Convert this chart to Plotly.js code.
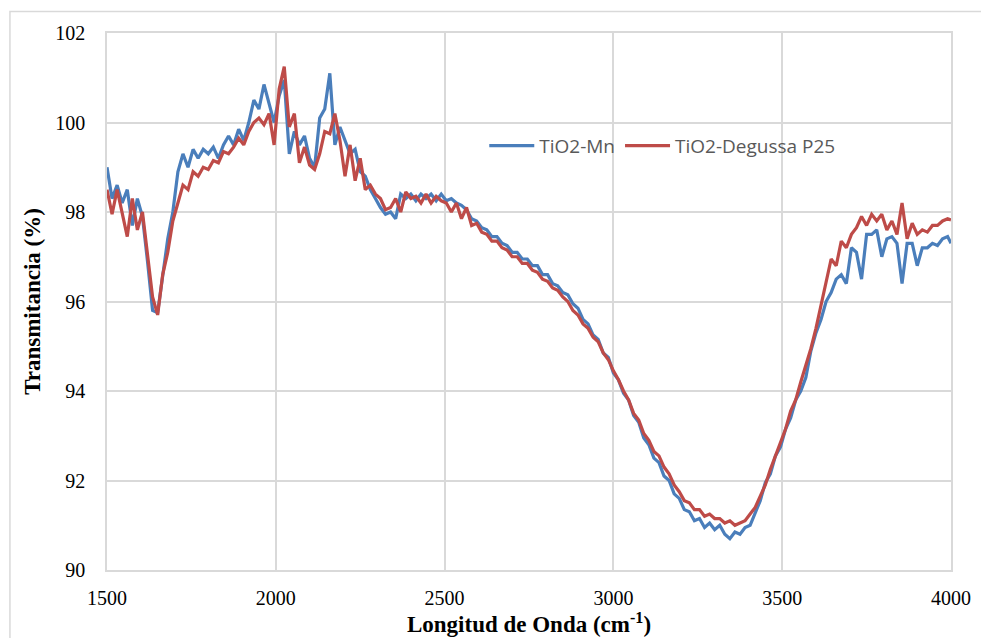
<!DOCTYPE html>
<html>
<head>
<meta charset="utf-8">
<script src="https://cdn.plot.ly/plotly-3.0.1.min.js"></script>
<style>html,body{margin:0;padding:0;background:#fff;}#chart{width:981px;height:638px;}</style>
</head>
<body>
<div id="chart"></div>
<script>
const wavenumber = [1500,1515,1530,1545,1560,1575,1590,1605,1620,1635,1650,1665,1680,1695,1710,1725,1740,1755,1770,1785,1800,1815,1830,1845,1860,1875,1890,1905,1920,1935,1950,1965,1980,1995,2010,2025,2040,2055,2070,2085,2100,2115,2130,2145,2160,2175,2190,2205,2220,2235,2250,2265,2280,2295,2310,2325,2340,2355,2370,2385,2400,2415,2430,2445,2460,2475,2490,2505,2520,2535,2550,2565,2580,2595,2610,2625,2640,2655,2670,2685,2700,2715,2730,2745,2760,2775,2790,2805,2820,2835,2850,2865,2880,2895,2910,2925,2940,2955,2970,2985,3000,3015,3030,3045,3060,3075,3090,3105,3120,3135,3150,3165,3180,3195,3210,3225,3240,3255,3270,3285,3300,3315,3330,3345,3360,3375,3390,3405,3420,3435,3450,3465,3480,3495,3510,3525,3540,3555,3570,3585,3600,3615,3630,3645,3660,3675,3690,3705,3720,3735,3750,3765,3780,3795,3810,3825,3840,3855,3870,3885,3900,3915,3930,3945,3960,3975,3990,4000];

const tio2Mn = [99.0,98.3,98.6,98.2,98.5,97.7,98.3,97.9,96.9,95.8,95.75,96.6,97.4,98.0,98.9,99.3,99.0,99.4,99.2,99.4,99.3,99.45,99.2,99.5,99.7,99.5,99.85,99.6,100.0,100.5,100.3,100.85,100.4,100.0,100.6,100.95,99.3,99.8,99.5,99.7,99.2,99.0,100.1,100.3,101.1,99.5,99.9,99.6,99.3,99.4,98.9,98.8,98.5,98.3,98.1,97.95,98.0,97.85,98.4,98.3,98.4,98.25,98.4,98.3,98.4,98.25,98.4,98.25,98.3,98.2,98.15,98.05,97.85,97.8,97.65,97.6,97.45,97.45,97.3,97.25,97.1,97.1,96.95,96.95,96.8,96.8,96.6,96.6,96.4,96.35,96.2,96.15,95.95,95.85,95.6,95.5,95.25,95.15,94.85,94.75,94.4,94.25,93.95,93.8,93.45,93.3,92.95,92.8,92.5,92.4,92.1,92.0,91.7,91.6,91.35,91.3,91.1,91.15,90.95,91.05,90.9,91.0,90.8,90.7,90.85,90.8,90.95,91.0,91.3,91.55,91.95,92.15,92.55,92.75,93.15,93.4,93.8,94.0,94.3,94.9,95.3,95.6,96.0,96.2,96.5,96.6,96.4,97.2,97.1,96.5,97.5,97.5,97.6,97.0,97.4,97.45,97.3,96.4,97.3,97.3,96.8,97.2,97.2,97.3,97.25,97.4,97.45,97.3];

const tio2P25 = [98.5,97.95,98.5,98.0,97.45,98.3,97.6,98.0,97.0,96.1,95.7,96.6,97.1,97.8,98.2,98.6,98.5,98.9,98.8,99.0,98.95,99.15,99.1,99.35,99.3,99.45,99.65,99.5,99.8,100.0,100.1,99.95,100.2,99.5,100.75,101.25,99.9,100.2,99.1,99.45,99.05,98.95,99.3,99.8,99.75,100.2,99.6,98.8,99.5,98.7,99.2,98.5,98.6,98.4,98.3,98.05,98.1,98.3,98.0,98.45,98.3,98.35,98.2,98.4,98.2,98.35,98.25,98.2,98.0,98.2,97.85,98.1,97.7,97.75,97.55,97.5,97.35,97.35,97.2,97.15,97.0,97.0,96.85,96.85,96.7,96.65,96.5,96.45,96.3,96.25,96.1,96.0,95.8,95.7,95.5,95.4,95.2,95.1,94.85,94.7,94.45,94.25,94.0,93.8,93.5,93.35,93.05,92.9,92.65,92.55,92.3,92.15,91.9,91.75,91.55,91.5,91.35,91.35,91.2,91.25,91.15,91.15,91.05,91.1,91.0,91.05,91.1,91.25,91.4,91.65,91.9,92.25,92.55,92.85,93.15,93.55,93.8,94.2,94.55,94.95,95.4,95.9,96.4,96.95,96.8,97.35,97.2,97.5,97.65,97.9,97.7,97.95,97.8,97.95,97.6,97.8,97.5,98.2,97.4,97.75,97.5,97.6,97.55,97.7,97.7,97.8,97.85,97.82];

const xTicks = [1500,2000,2500,3000,3500,4000];
const yTicks = [90,92,94,96,98,100,102];

const traces = [
  {x: wavenumber, y: tio2Mn, name: 'TiO2-Mn', type: 'scatter', mode: 'lines',
   line: {color: '#4A7EBB', width: 3.2}},
  {x: wavenumber, y: tio2P25, name: 'TiO2-Degussa P25', type: 'scatter', mode: 'lines',
   line: {color: '#BE4B48', width: 3.2}}
];

const serif = '"Liberation Serif", "Times New Roman", serif';
const layout = {
  width: 981, height: 638,
  margin: {l: 107, r: 30, t: 33, b: 68},
  paper_bgcolor: '#fff', plot_bgcolor: '#fff',
  showlegend: true,
  legend: {orientation: 'h', x: 0.447, y: 0.79, xanchor: 'left', yanchor: 'middle',
    font: {family: '"Open Sans", "Liberation Sans", sans-serif', size: 19, color: '#595959'},
    bgcolor: 'rgba(0,0,0,0)', tracegroupgap: 0, itemwidth: 45},
  xaxis: {range: [1500, 4000], tickvals: xTicks, ticktext: xTicks.map(String),
    showgrid: true, gridcolor: '#d9d9d9', gridwidth: 1.5, zeroline: false,
    showline: true, linecolor: '#d9d9d9', linewidth: 1.5, mirror: true,
    ticks: 'outside', ticklen: 9, tickcolor: 'rgba(0,0,0,0)',
    tickfont: {family: serif, size: 20, color: '#000'},
    title: {text: '<b>Longitud de Onda (cm<sup>-1</sup>)</b>', font: {family: serif, size: 23, color: '#000'}, standoff: 4}},
  yaxis: {range: [90, 102], tickvals: yTicks, ticktext: yTicks.map(String),
    showgrid: true, gridcolor: '#d9d9d9', gridwidth: 1.5, zeroline: false,
    showline: true, linecolor: '#d9d9d9', linewidth: 1.5, mirror: true,
    ticks: 'outside', ticklen: 16, tickcolor: 'rgba(0,0,0,0)',
    tickfont: {family: serif, size: 20, color: '#000'},
    title: {text: '<b>Transmitancia (%)</b>', font: {family: serif, size: 23, color: '#000'}, standoff: 8}},
  shapes: [{type: 'rect', xref: 'paper', yref: 'paper',
    x0: -0.115, x1: 1.06, y0: -0.2, y1: 1.040,
    line: {color: '#d9d9d9', width: 1.5}, fillcolor: 'rgba(0,0,0,0)', layer: 'below'}]
};

Plotly.newPlot('chart', traces, layout, {displayModeBar: false, responsive: false});
</script>
</body>
</html>
